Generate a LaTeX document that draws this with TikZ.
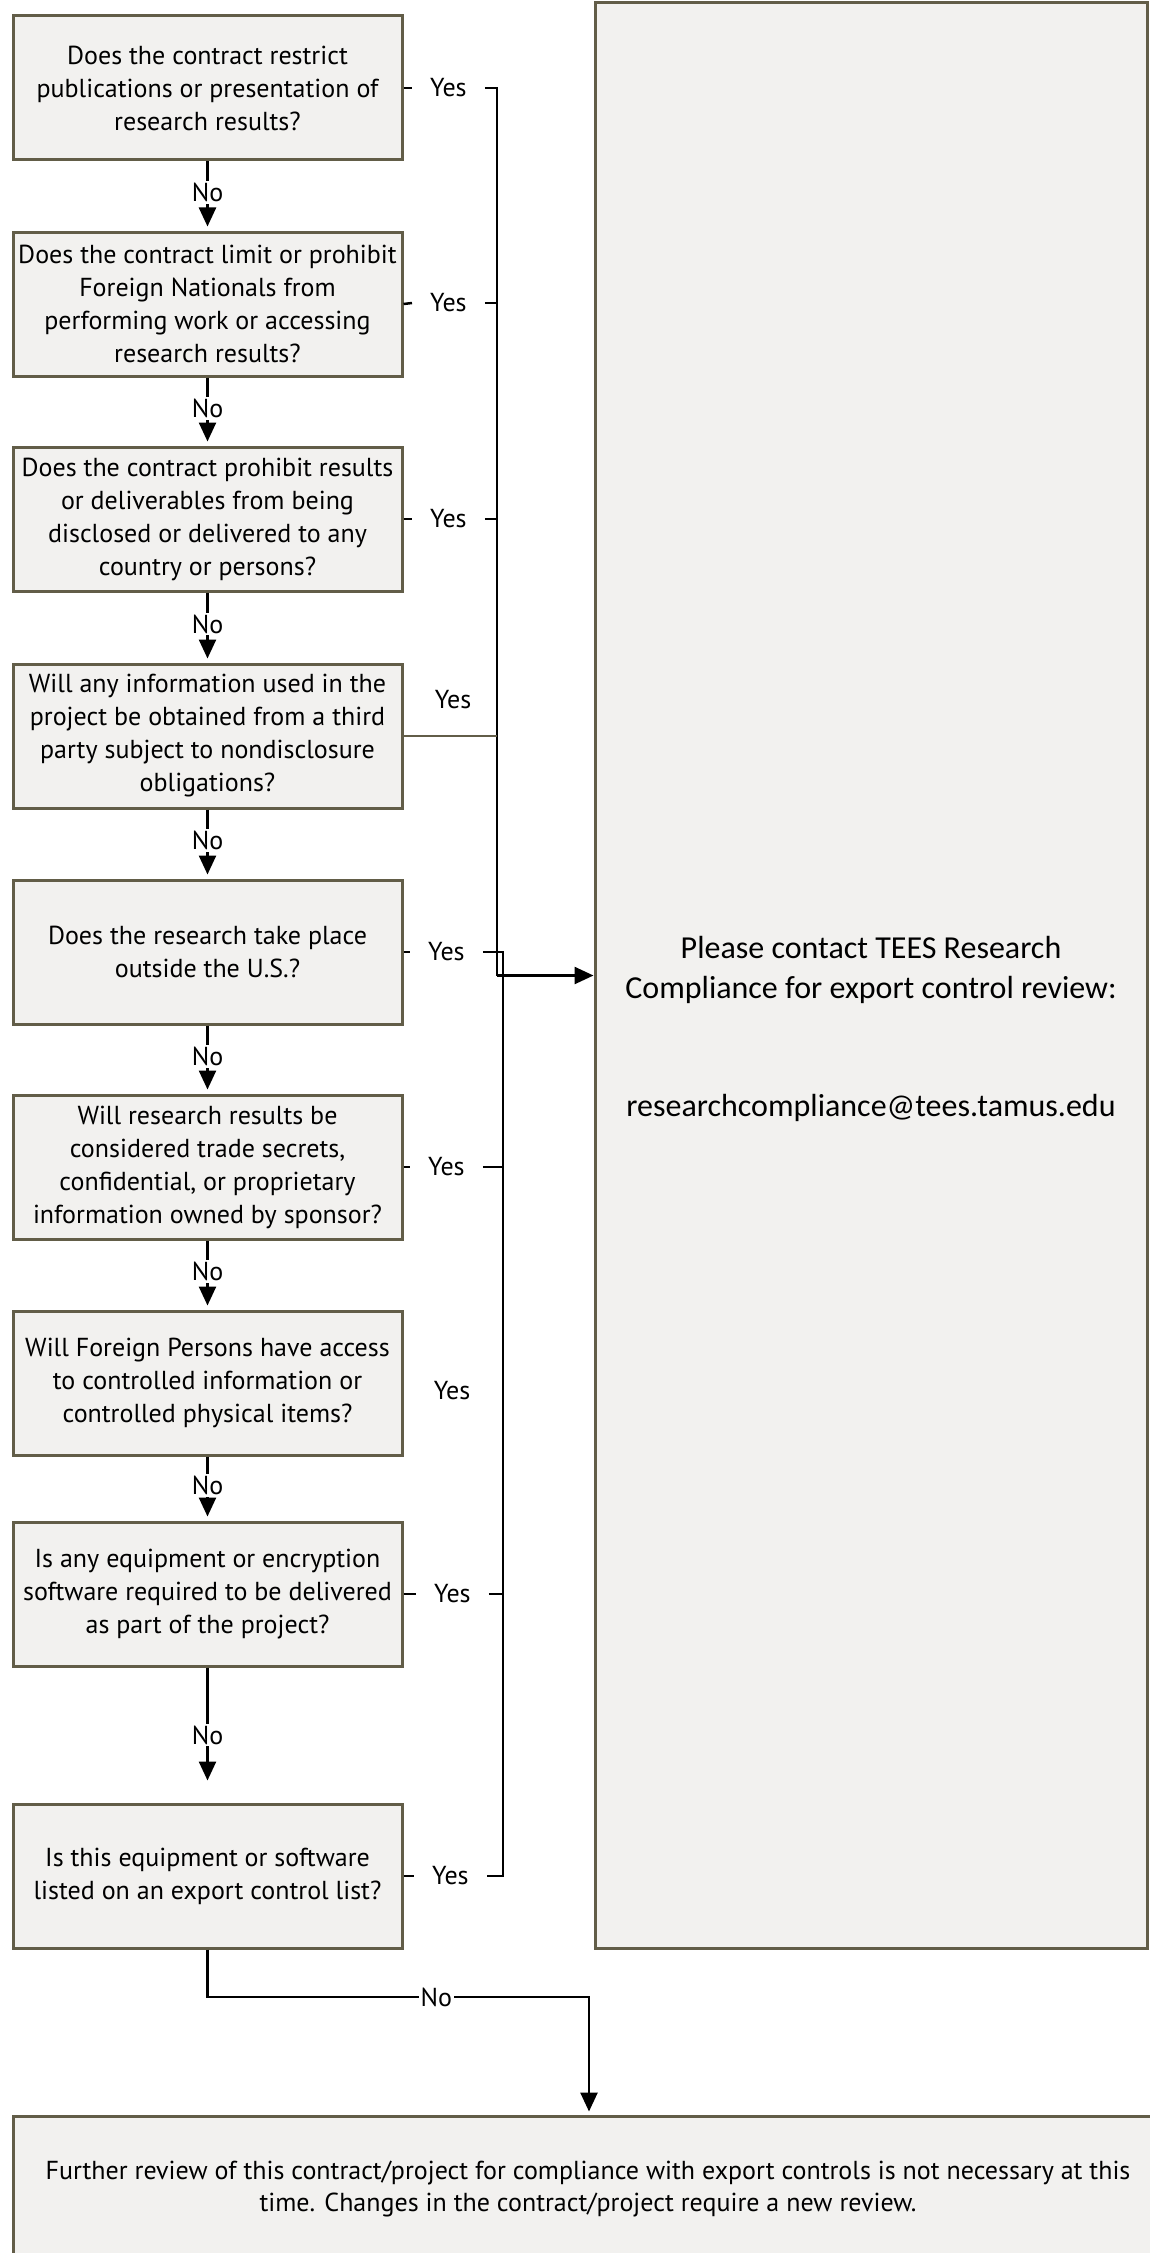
\documentclass[tikz,border=0pt]{standalone}
\usepackage{fontspec}
\setmainfont{PT Sans}
\newfontfamily\calfont{Carlito}
\usetikzlibrary{arrows.meta}
\definecolor{boxline}{RGB}{98,93,72}
\definecolor{boxfill}{RGB}{242,241,239}
\begin{document}
\begin{tikzpicture}[x=1pt,y=-1pt,
  qbox/.style={draw=boxline, fill=boxfill, line width=3pt, minimum width=389pt, minimum height=144pt, align=center, font=\fontsize{26}{33}\selectfont, inner sep=0pt},
  lbl/.style={font=\fontsize{26}{33}\selectfont, inner ysep=1pt, inner xsep=18pt},
  nolbl/.style={font=\fontsize{26}{33}\selectfont, fill=white, inner xsep=2pt, inner ysep=2pt},
  conn/.style={line width=2.5pt, black},
  arr/.style={conn, -{Triangle[width=17pt,length=19pt]}},
]
\clip (0,0) rectangle (1150,2253);
\fill[white] (0,0) rectangle (1150,2253);

% question boxes
\node[qbox] (b1) at (207.5,88) {Does the contract restrict\\publications or presentation of\\research results?};
\node[qbox] (b2) at (207.5,304) {Does the contract limit or prohibit\\Foreign Nationals from\\performing work or accessing\\research results?};
\node[qbox] (b3) at (207.5,519) {Does the contract prohibit results\\or deliverables from being\\disclosed or delivered to any\\country or persons?};
\node[qbox] (b4) at (207.5,736) {Will any information used in the\\project be obtained from a third\\party subject to nondisclosure\\obligations?};
\node[qbox] (b5) at (207.5,952) {Does the research take place\\outside the U.S.?};
\node[qbox] (b6) at (207.5,1167) {Will research results be\\considered trade secrets,\\confidential, or proprietary\\information owned by sponsor?};
\node[qbox] (b7) at (207.5,1383) {Will Foreign Persons have access\\to controlled information or\\controlled physical items?};
\node[qbox] (b8) at (207.5,1594) {Is any equipment or encryption\\software required to be delivered\\as part of the project?};
\node[qbox] (b9) at (207.5,1876) {Is this equipment or software\\listed on an export control list?};

% right box
\node[draw=boxline, fill=boxfill, line width=3pt, minimum width=552pt, minimum height=1945pt, inner sep=0pt] (right) at (871,975.5) {};
\node[font=\calfont\fontsize{32}{40}\selectfont, align=center] (rtext) at (871,1029) {Please contact TEES Research\\Compliance for export control review:\\[78pt]researchcompliance@tees.tamus.edu};

% final box
\node[draw=boxline, fill=boxfill, line width=3pt, minimum width=1150pt, minimum height=146pt, inner sep=0pt, align=center, font=\fontsize{26}{32}\selectfont] (fin) at (588,2189) {Further review of this contract/project for compliance with export controls is not necessary at this\\time. Changes in the contract/project require a new review.};

% Yes labels
\node[lbl, anchor=west] (y1) at (412,88) {Yes};
\node[lbl, anchor=west] (y2) at (412,303) {Yes};
\node[lbl, anchor=west] (y3) at (412,519) {Yes};
\node[lbl] (y4) at (453,700) {Yes};
\node[lbl, anchor=west] (y5) at (410,952) {Yes};
\node[lbl, anchor=west] (y6) at (410,1167) {Yes};
\node[lbl] (y7) at (452,1391) {Yes};
\node[lbl, anchor=west] (y8) at (416,1594) {Yes};
\node[lbl, anchor=west] (y9) at (414,1876) {Yes};

% bracket coordinates
\coordinate (v1) at (497,88);
\coordinate (v2) at (497,303);
\coordinate (v3) at (497,519);
\coordinate (v4) at (497,736);
\coordinate (vm) at (497,975.5);
\coordinate (v5) at (503,952);
\coordinate (v6) at (503,1167);
\coordinate (v8) at (503,1594);
\coordinate (v9) at (503,1876);

% yes connectors
\draw[conn] (b1.east) -- (y1.west);
\draw[conn] (b2.east) -- (y2.west);
\draw[conn] (b3.east) -- (y3.west);
\draw[conn] (b5.east) -- (y5.west);
\draw[conn] (b6.east) -- (y6.west);
\draw[conn] (b8.east) -- (y8.west);
\draw[conn] (b9.east) -- (y9.west);
\draw[conn] (y1.east) -- (v1) -- (vm);
\draw[conn] (y2.east) -- (v2);
\draw[conn] (y3.east) -- (v3);
\draw[line width=2.5pt, boxline] (b4.east) -- (v4);
\draw[conn] (y5.east) -- (v5) -- (v9) -- (y9.east);
\draw[conn] (y6.east) -- (v6);
\draw[conn] (y8.east) -- (v8);
\draw[arr] (vm) -- (right.west);

% no connectors
\draw[arr, shorten >=4pt] (b1.south) -- node[nolbl, pos=0.45] {No} (b2.north);
\draw[arr, shorten >=4pt] (b2.south) -- node[nolbl, pos=0.45] {No} (b3.north);
\draw[arr, shorten >=4pt] (b3.south) -- node[nolbl, pos=0.45] {No} (b4.north);
\draw[arr, shorten >=4pt] (b4.south) -- node[nolbl, pos=0.45] {No} (b5.north);
\draw[arr, shorten >=4pt] (b5.south) -- node[nolbl, pos=0.45] {No} (b6.north);
\draw[arr, shorten >=4pt] (b6.south) -- node[nolbl, pos=0.45] {No} (b7.north);
\draw[arr, shorten >=4pt] (b7.south) -- node[nolbl, pos=0.45] {No} (b8.north);
\draw[arr, shorten >=22pt] (b8.south) -- node[nolbl] {No} (b9.north);
\coordinate (c2) at (589,1997);
\draw[arr, shorten >=3pt] (b9.south) |- node[nolbl, pos=0.8] {No} (c2) -- (c2 |- fin.north);
\end{tikzpicture}
\end{document}
